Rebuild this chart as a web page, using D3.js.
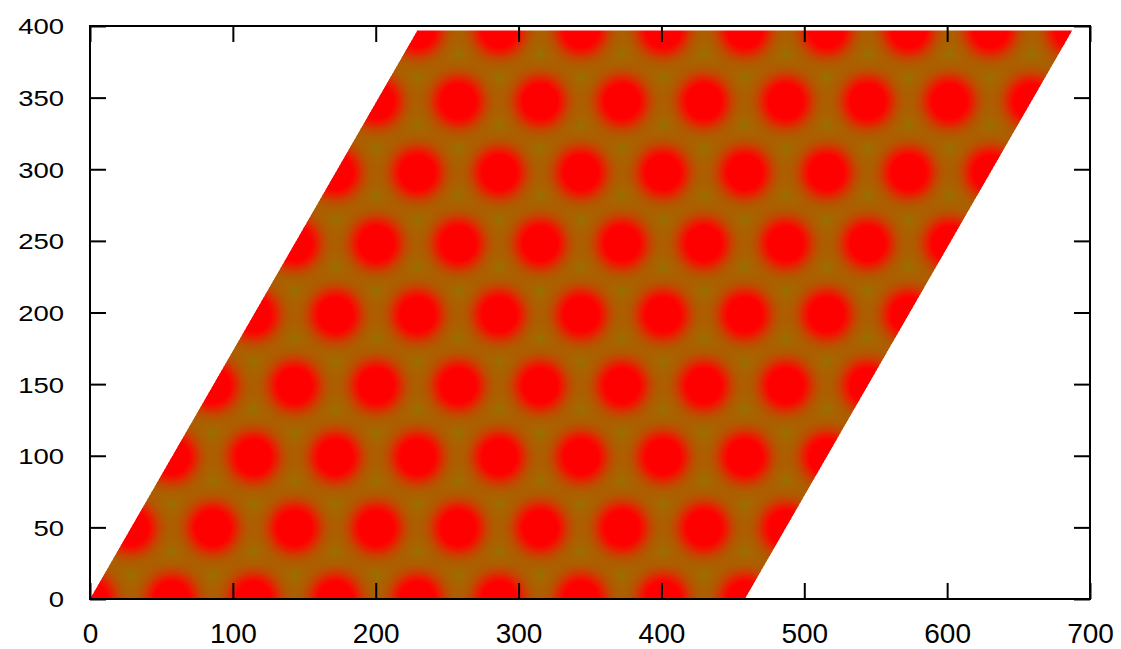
<!DOCTYPE html>
<html>
<head>
<meta charset="utf-8">
<script src="https://cdn.jsdelivr.net/npm/d3@7"></script>
<style>
  html, body { margin: 0; padding: 0; background: #ffffff; }
  svg text { font-family: "Liberation Sans", Arial, Helvetica, sans-serif; fill: #000; }
</style>
</head>
<body>
<div id="chart"></div>
<script>
// Supercell outline (8 x 8 hexagonal cells), corners in plot units
const cellX = [0, 458.4, 687.6, 229.2];
const cellY = [0, 0, 397.0, 397.0];

// Lattice sites: one y value per row and the x positions along that row
const rowY = [0, 49.6, 99.2, 148.9, 198.5, 248.1, 297.7, 347.3, 397.0];
const rowSiteX = [
  [0, 57.3, 114.6, 171.9, 229.2, 286.5, 343.8, 401.1, 458.4],
  [28.65, 85.95, 143.25, 200.55, 257.85, 315.15, 372.45, 429.75, 487.05],
  [57.3, 114.6, 171.9, 229.2, 286.5, 343.8, 401.1, 458.4, 515.7],
  [85.95, 143.25, 200.55, 257.85, 315.15, 372.45, 429.75, 487.05, 544.35],
  [114.6, 171.9, 229.2, 286.5, 343.8, 401.1, 458.4, 515.7, 573.0],
  [143.25, 200.55, 257.85, 315.15, 372.45, 429.75, 487.05, 544.35, 601.65],
  [171.9, 229.2, 286.5, 343.8, 401.1, 458.4, 515.7, 573.0, 630.3],
  [200.55, 257.85, 315.15, 372.45, 429.75, 487.05, 544.35, 601.65, 658.95],
  [229.2, 286.5, 343.8, 401.1, 458.4, 515.7, 573.0, 630.3, 687.6]
];

// Width of each site's density blob, in plot units
const siteWidth = 14;

// Palette: density level -> colour (olive -> brown -> red)
const levelStops = [0.185, 0.20, 0.28, 0.40, 0.54, 0.70];
const colorStops = ["#9a6e00", "#a86400", "#b05a00", "#c84200", "#e82000", "#ff0000"];

// Axis ticks
const xTicks = [0, 100, 200, 300, 400, 500, 600, 700];
const yTicks = [0, 50, 100, 150, 200, 250, 300, 350, 400];

const W = 1121, H = 649;
const plot = { left: 90, right: 1090, top: 26, bottom: 599 };

const x = d3.scaleLinear().domain([0, 700]).range([plot.left, plot.right]);
const y = d3.scaleLinear().domain([0, 400]).range([plot.bottom, plot.top]);

const color = d3.scaleLinear()
  .domain(levelStops)
  .range(colorStops)
  .interpolate(d3.interpolateRgb)
  .clamp(true);

const svg = d3.select("#chart").append("svg")
  .attr("width", W).attr("height", H)
  .attr("viewBox", `0 0 ${W} ${H}`);

// ---- density map rendered into a bitmap, then placed in the SVG ----
const sites = [];
rowY.forEach((yy, j) => rowSiteX[j].forEach(xx => sites.push([xx, yy])));
const cellPoly = cellX.map((cx, i) => [cx, cellY[i]]);

const pw = plot.right - plot.left, ph = plot.bottom - plot.top;
const canvas = document.createElement("canvas");
canvas.width = pw; canvas.height = ph;
const ctx = canvas.getContext("2d");
const img = ctx.createImageData(pw, ph);

// colour lookup table
const LUT_N = 2048, lutMax = 1.3;
const lut = [];
for (let k = 0; k < LUT_N; k++) {
  const c = d3.rgb(color(k / (LUT_N - 1) * lutMax));
  lut.push([c.r, c.g, c.b]);
}

const twoS2 = 2 * siteWidth * siteWidth;
const cutoff2 = 75 * 75;
const sub = [[-0.25, -0.25], [0.25, -0.25], [-0.25, 0.25], [0.25, 0.25]];

for (let j = 0; j < ph; j++) {
  for (let i = 0; i < pw; i++) {
    const px = plot.left + i + 0.5, py = plot.top + j + 0.5;
    let cov = 0;
    for (const s of sub) {
      if (d3.polygonContains(cellPoly, [x.invert(px + s[0]), y.invert(py + s[1])])) cov++;
    }
    if (cov === 0) continue;
    const dx = x.invert(px), dy = y.invert(py);
    let f = 0;
    for (let k = 0; k < sites.length; k++) {
      const ex = dx - sites[k][0], ey = dy - sites[k][1];
      const d2 = ex * ex + ey * ey;
      if (d2 < cutoff2) f += Math.exp(-d2 / twoS2);
    }
    const idx = Math.max(0, Math.min(LUT_N - 1, Math.round(f / lutMax * (LUT_N - 1))));
    const c = lut[idx];
    const o = (j * pw + i) * 4;
    img.data[o] = c[0]; img.data[o + 1] = c[1]; img.data[o + 2] = c[2];
    img.data[o + 3] = Math.round(255 * cov / 4);
  }
}
ctx.putImageData(img, 0, 0);

svg.append("image")
  .attr("x", plot.left).attr("y", plot.top)
  .attr("width", pw).attr("height", ph)
  .attr("href", canvas.toDataURL());

// ---- axes: inward ticks on all four sides ----
const tickLen = 16;

const gBottom = svg.append("g")
  .attr("transform", `translate(0,${plot.bottom})`)
  .call(d3.axisBottom(x).tickValues(xTicks).tickSizeInner(-tickLen).tickSizeOuter(0).tickPadding(0));
const gTop = svg.append("g")
  .attr("transform", `translate(0,${plot.top})`)
  .call(d3.axisTop(x).tickValues(xTicks).tickSizeInner(-tickLen).tickSizeOuter(0).tickFormat(""));
const gLeft = svg.append("g")
  .attr("transform", `translate(${plot.left},0)`)
  .call(d3.axisLeft(y).tickValues(yTicks).tickSizeInner(-tickLen).tickSizeOuter(0).tickPadding(0));
const gRight = svg.append("g")
  .attr("transform", `translate(${plot.right},0)`)
  .call(d3.axisRight(y).tickValues(yTicks).tickSizeInner(-tickLen).tickSizeOuter(0).tickFormat(""));

[gBottom, gTop, gLeft, gRight].forEach(g => {
  g.select(".domain").remove();
  g.selectAll(".tick line").attr("stroke", "#000").attr("stroke-width", 2);
});

// bottom labels
gBottom.selectAll(".tick text")
  .attr("y", 44).attr("dy", null)
  .attr("font-size", 28)
  .attr("font-family", "Liberation Sans, Arial, sans-serif")
  .attr("fill", "#000");

// left labels, horizontally widened
const leftStretch = 1.25;
gLeft.selectAll(".tick text")
  .attr("font-size", 22)
  .attr("font-family", "Liberation Sans, Arial, sans-serif")
  .attr("fill", "#000")
  .attr("text-anchor", "end")
  .attr("x", -26 / leftStretch)
  .attr("dy", "0.36em")
  .attr("transform", `scale(${leftStretch},1)`);

// plot frame
svg.append("rect")
  .attr("x", plot.left).attr("y", plot.top)
  .attr("width", pw).attr("height", ph)
  .attr("fill", "none").attr("stroke", "#000").attr("stroke-width", 2);
</script>
</body>
</html>
